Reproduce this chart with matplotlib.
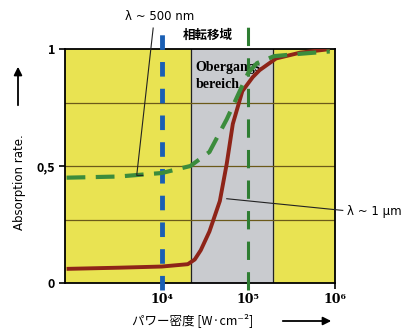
import numpy as np
import matplotlib
matplotlib.use("Agg")
import matplotlib.pyplot as plt

plt.rcParams['font.family'] = ['Noto Sans CJK JP', 'DejaVu Sans']

# log10 of power density
red_logx = [2.9, 3.5, 4.0, 4.3, 4.38, 4.45, 4.55, 4.67, 4.75, 4.82, 4.93, 5.05, 5.13, 5.32, 5.6, 5.94]
red_y = [0.06, 0.065, 0.07, 0.08, 0.10, 0.14, 0.22, 0.35, 0.51, 0.68, 0.82, 0.88, 0.91, 0.96, 0.985, 1.0]
green_logx = [2.9, 3.5, 4.0, 4.33, 4.55, 4.75, 4.85, 5.0, 5.1, 5.3, 5.6, 5.94]
green_y = [0.45, 0.455, 0.47, 0.50, 0.56, 0.70, 0.78, 0.90, 0.94, 0.97, 0.98, 0.99]
grid_y = [0.27, 0.5, 0.77]
band = [10**4.336, 10**5.284]
xticks = [1e4, 1e5, 1e6]
xtick_labels = ['10⁴', '10⁵', '10⁶']
yticks = [0, 0.5, 1]
ytick_labels = ['0', '0,5', '1']

fig = plt.figure(figsize=(4.08, 3.34), dpi=100)
ax = fig.add_axes([0.159, 0.153, 0.662, 0.70])
ax.set_xscale('log')
ax.set_xlim(10**2.88, 1e6)
ax.set_ylim(0, 1)
ax.set_facecolor('#E9E352')

ax.axvspan(band[0], band[1], color='#C9CBCF', zorder=0)
ax.axvline(band[0], color='#222222', lw=0.9, zorder=1)
ax.axvline(band[1], color='#222222', lw=0.9, zorder=1)
for g in grid_y:
    ax.axhline(g, color='#6b5a1a', lw=0.9, zorder=1)

# vertical wavelength markers, running past the frame
ax.plot([1e4, 1e4], [-0.03, 1.11], color='#1A5FB4', lw=3.5, dashes=(3, 2.5),
        clip_on=False, zorder=3)
ax.plot([1e5, 1e5], [-0.03, 1.11], color='#2E7D32', lw=2.2, dashes=(6, 4),
        clip_on=False, zorder=3)

ax.plot(10**np.array(red_logx), red_y, color='#8E2418', lw=2.8, zorder=4, solid_capstyle='butt')
ax.plot(10**np.array(green_logx), green_y, color='#3C8C3C', lw=3, dashes=(4.5, 2.5), zorder=5)

# leader lines
ax.plot([10**3.9, 10**3.71, 10**3.78], [1.09, 0.46, 0.46], color='#222222', lw=0.8,
        clip_on=False, zorder=6)
ax.plot([10**4.75, 10**6.09], [0.36, 0.31], color='#222222', lw=0.8,
        clip_on=False, zorder=6)

for s in ax.spines.values():
    s.set_linewidth(1.3)
ax.set_xticks(xticks)
ax.set_xticklabels(xtick_labels, family='DejaVu Serif', fontweight='bold', fontsize=9)
ax.xaxis.set_minor_locator(matplotlib.ticker.NullLocator())
ax.set_yticks(yticks)
ax.set_yticklabels(ytick_labels, fontweight='bold', fontsize=9)
ax.tick_params(length=4, width=1.2, pad=3)

ax.text(0.53, 1.058, '相転移域', transform=ax.transAxes, fontsize=9, fontweight='bold',
        ha='center', va='center')
fig.text(160 / 408, 1 - 17 / 334, 'λ ~ 500 nm', fontsize=8.5, ha='center', va='center',
         family=['DejaVu Sans'])
fig.text(347 / 408, 1 - 212 / 334, 'λ ~ 1 µm', fontsize=8.5, ha='left', va='center',
         family=['DejaVu Sans'])
ax.text(10**4.39, 0.95, 'Obergangs-\nbereich', family='Liberation Serif', fontweight='bold',
        fontsize=10, ha='left', va='top', linespacing=1.4, zorder=2)

fig.text(20 / 408, 1 - 182 / 334, 'Absorption rate.', rotation=90, fontsize=8.5,
         ha='center', va='center', family=['DejaVu Sans'])
fig.add_artist(matplotlib.patches.FancyArrowPatch((18 / 408, 1 - 108 / 334), (18 / 408, 1 - 64 / 334),
               transform=fig.transFigure, arrowstyle='-|>', mutation_scale=12, lw=1.3, color='black'))
fig.text(193 / 408, 1 - 320 / 334, 'パワー密度 [W·cm⁻²]', fontsize=9, ha='center', va='center')
fig.add_artist(matplotlib.patches.FancyArrowPatch((280 / 408, 1 - 321 / 334), (334 / 408, 1 - 321 / 334),
               transform=fig.transFigure, arrowstyle='-|>', mutation_scale=12, lw=1.3, color='black'))

fig.savefig('out.png', dpi=100, facecolor='white')
